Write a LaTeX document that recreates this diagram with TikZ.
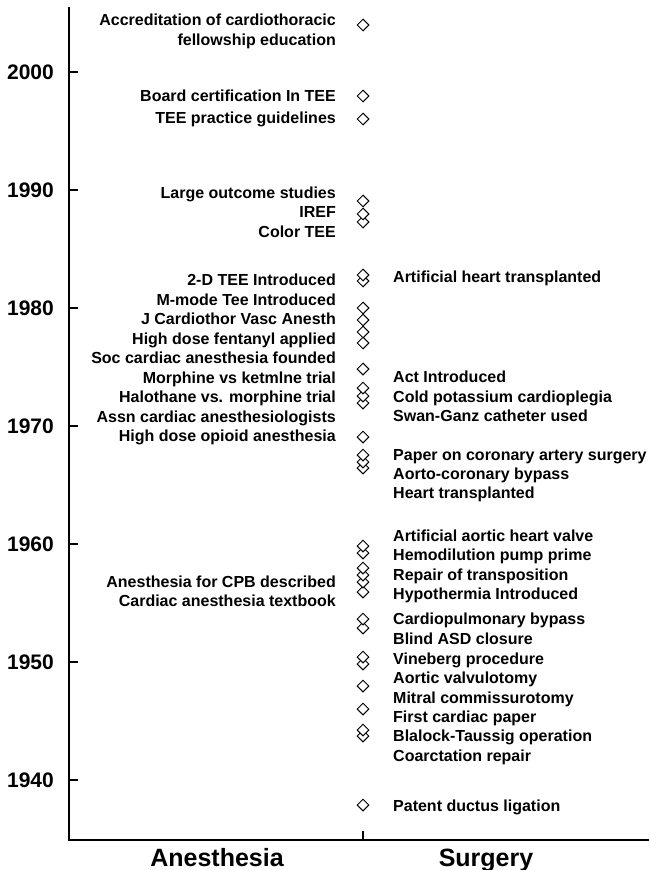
\documentclass[tikz,border=0pt]{standalone}
\usepackage{fontspec}
\setmainfont{Liberation Sans}
\usetikzlibrary{shapes.geometric}
\tikzset{
  dmd/.style={shape=diamond, draw=black, fill=white, line width=1pt, minimum width=12pt, minimum height=12pt, inner sep=0pt, aspect=1},
  lbl/.style={font=\fontsize{16}{19}\selectfont\bfseries, inner sep=0pt},
  yearlbl/.style={font=\fontsize{21}{24}\selectfont\bfseries, inner sep=0pt, anchor=base east},
  catlbl/.style={font=\fontsize{25}{28}\selectfont\bfseries, inner sep=0pt, anchor=base},
  axis/.style={line width=1.3pt, black},
  tickmark/.style={line width=1.1pt, black}
}
\begin{document}
\begin{tikzpicture}[x=1pt,y=-1pt]
\useasboundingbox (0,0) rectangle (649,870);
% axes
\coordinate (top) at (69,7);
\coordinate (origin) at (69,840);
\coordinate (right) at (649,840);
\draw[axis] (top) -- (origin) -- (right);
\coordinate (btick) at (363,840);
\coordinate (btickend) at (363,831);
\draw[tickmark] (btick) -- (btickend);
% year ticks
\foreach \yr/\yy in {2000/72,1990/190,1980/308,1970/426,1960/544,1950/662,1940/780}{
  \coordinate (t\yr) at (69,\yy);
  \coordinate (te\yr) at (78,\yy);
  \draw[tickmark] (t\yr) -- (te\yr);
  \node[yearlbl] (y\yr) at (54,\yy+7.5) {\yr};
}
% diamonds (earliest first so later ones overlap)
\foreach \yy [count=\i] in {805,736,730,709,686,664,657,628,619,592,582,575,568,553,546,468,462,455,437,403,396,388,369,343,332,320,308,281,275,222,214,201,119,96,25}{
  \node[dmd] (d\i) at (363,\yy) {};
}
% anesthesia labels
\foreach \t/\yy [count=\i] in {
  {Accreditation of cardiothoracic}/20,
  {fellowship education}/40,
  {Board certification In TEE}/96,
  {TEE practice guidelines}/118,
  {Large outcome studies}/193,
  {IREF}/212,
  {Color TEE}/232,
  {2-D TEE Introduced}/280,
  {M-mode Tee Introduced}/300,
  {J Cardiothor Vasc Anesth}/319,
  {High dose fentanyl applied}/339,
  {Soc cardiac anesthesia founded}/358,
  {Morphine vs ketmlne trial}/378,
  {Halothane vs. morphine trial}/397,
  {Assn cardiac anesthesiologists}/417,
  {High dose opioid anesthesia}/436,
  {Anesthesia for CPB described}/582,
  {Cardiac anesthesia textbook}/601}{
  \node[lbl, anchor=base east] (a\i) at (336,\yy+5.7) {\t};
}
% surgery labels
\foreach \t/\yy [count=\i] in {
  {Artificial heart transplanted}/277,
  {Act Introduced}/377,
  {Cold potassium cardioplegia}/397,
  {Swan-Ganz catheter used}/416,
  {Paper on coronary artery surgery}/455,
  {Aorto-coronary bypass}/474,
  {Heart transplanted}/493,
  {Artificial aortic heart valve}/536,
  {Hemodilution pump prime}/555,
  {Repair of transposition}/575,
  {Hypothermia Introduced}/594,
  {Cardiopulmonary bypass}/619,
  {Blind ASD closure}/639,
  {Vineberg procedure}/659,
  {Aortic valvulotomy}/678,
  {Mitral commissurotomy}/698,
  {First cardiac paper}/717,
  {Blalock-Taussig operation}/736,
  {Coarctation repair}/756,
  {Patent ductus ligation}/806}{
  \node[lbl, anchor=base west] (s\i) at (393,\yy+5.7) {\t};
}
% category labels
\node[catlbl] (anes) at (217,866) {Anesthesia};
\node[catlbl] (surg) at (486,866) {Surgery};
\end{tikzpicture}
\end{document}
